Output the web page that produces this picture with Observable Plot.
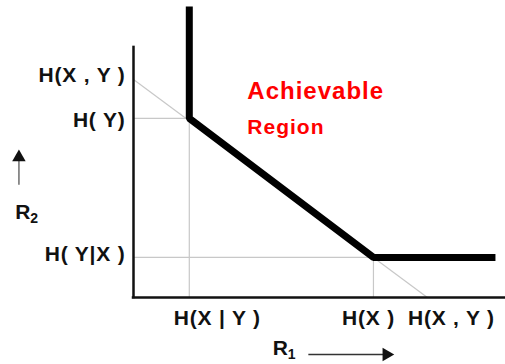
<!DOCTYPE html>
<html>
<head>
<meta charset="utf-8">
<script src="https://cdn.jsdelivr.net/npm/d3@7"></script>
<script src="https://cdn.jsdelivr.net/npm/@observablehq/plot@0.6"></script>
<style>
  html, body { margin: 0; padding: 0; background: #fff; }
</style>
</head>
<body>
<div id="chart"></div>
<script>
// ---- data (abstract rate units) ----
const xTickValues = [1.5, 6.45, 7.9];
const xTickLabels = ["H(X | Y )", "H(X )", "H(X , Y )"];
const yTickValues = [1.35, 6.03, 7.34];
const yTickLabels = ["H( Y|X )", "H( Y)", "H(X , Y )"];
const boundaryR1 = [1.5, 1.5, 6.45, 9.73];
const boundaryR2 = [9.8, 6.03, 1.35, 1.35];
const regionLabel = ["Achievable", "Region"];
const axisLabels = ["R", "R"];
const axisSubs = ["1", "2"];

// ---- derived tables ----
const boundary = boundaryR1.map((r1, i) => ({r1, r2: boundaryR2[i]}));
const guides = [
  {x1: 0, y1: yTickValues[2], x2: xTickValues[2], y2: 0},
  {x1: 0, y1: yTickValues[1], x2: xTickValues[0], y2: yTickValues[1]},
  {x1: xTickValues[0], y1: 0, x2: xTickValues[0], y2: yTickValues[1]},
  {x1: 0, y1: yTickValues[0], x2: xTickValues[1], y2: yTickValues[0]},
  {x1: xTickValues[1], y1: 0, x2: xTickValues[1], y2: yTickValues[0]}
];

const font = "Liberation Sans, Arial, sans-serif";
const yLabelDy = [-3, 2, -4];
const xLabelDx = [28, -5, 24];

const yLabelMarks = yTickLabels.map((t, i) => Plot.text([t], {
  x: 0, y: yTickValues[i], text: d => d, textAnchor: "end", dx: -8, dy: yLabelDy[i],
  fontSize: 21, fontWeight: "bold", fill: "#111", fontFamily: font
}));
const xLabelMarks = xTickLabels.map((t, i) => Plot.text([t], {
  x: xTickValues[i], y: 0, text: d => d, textAnchor: "middle", dx: xLabelDx[i], dy: 21,
  fontSize: 21, fontWeight: "bold", fill: "#111", fontFamily: font
}));

const svg = Plot.plot({
  width: 505,
  height: 364,
  marginLeft: 133,
  marginRight: 0,
  marginTop: 0,
  marginBottom: 67,
  x: {domain: [0, 10], axis: null},
  y: {domain: [0, 10], axis: null},
  style: {fontFamily: font, overflow: "visible", background: "#fff", letterSpacing: "0.8px"},
  marks: [
    // thin guide lines
    Plot.link(guides, {x1: "x1", y1: "y1", x2: "x2", y2: "y2", stroke: "#c8c8c8", strokeWidth: 1.2}),
    // axes
    Plot.ruleX([0], {y1: 0, y2: 8.42, stroke: "#111", strokeWidth: 2.5, strokeLinecap: "square"}),
    Plot.ruleY([0], {x1: 0, x2: 10, stroke: "#111", strokeWidth: 2.5, strokeLinecap: "square"}),
    // boundary of achievable region
    Plot.line(boundary, {x: "r1", y: "r2", stroke: "#000", strokeWidth: 7, strokeLinejoin: "miter", strokeLinecap: "butt", curve: "linear"}),
    // tick labels
    ...yLabelMarks,
    ...xLabelMarks,
    // region label
    Plot.text([regionLabel[0]], {x: 3.06, y: 6.94, text: d => d, textAnchor: "start", fontSize: 24, fontWeight: "bold", fill: "#ff0000", fontFamily: font}),
    Plot.text([regionLabel[1]], {x: 3.06, y: 5.72, text: d => d, textAnchor: "start", fontSize: 21, fontWeight: "bold", fill: "#ff0000", fontFamily: font}),
    // R1 label + arrow
    Plot.text([axisLabels[0]], {x: 3.74, y: -1.72, text: d => d, textAnchor: "start", fontSize: 21, fontWeight: "bold", fill: "#111", fontFamily: font}),
    Plot.text([axisSubs[0]], {x: 3.74, y: -1.72, text: d => d, textAnchor: "start", dx: 15, dy: 6, fontSize: 14, fontWeight: "bold", fill: "#111", fontFamily: font}),
    Plot.link([0], {x1: 4.70, y1: -1.92, x2: 6.75, y2: -1.92, stroke: "#333", strokeWidth: 1.4}),
    Plot.dot([0], {x: 6.80, y: -1.92, symbol: "triangle", r: 5, fill: "#111", stroke: null, rotate: 90}),
    // R2 label + arrow
    Plot.text([axisLabels[1]], {x: -3.18, y: 2.87, text: d => d, textAnchor: "start", fontSize: 21, fontWeight: "bold", fill: "#111", fontFamily: font}),
    Plot.text([axisSubs[1]], {x: -3.18, y: 2.87, text: d => d, textAnchor: "start", dx: 15, dy: 6, fontSize: 14, fontWeight: "bold", fill: "#111", fontFamily: font}),
    Plot.link([0], {x1: -3.08, y1: 3.8, x2: -3.08, y2: 4.6, stroke: "#777", strokeWidth: 1.6}),
    Plot.dot([0], {x: -3.08, y: 4.72, symbol: "triangle", r: 5, fill: "#111", stroke: null})
  ]
});

d3.select(svg).selectAll("text").each(function() {
  const t = this.textContent;
  if (t === "Achievable") this.style.letterSpacing = "1px";
  if (t === "Region") this.style.letterSpacing = "1px";
  if (t === "R" || t === "1" || t === "2") this.style.letterSpacing = "0px";
});

document.getElementById("chart").appendChild(svg);
</script>
</body>
</html>
